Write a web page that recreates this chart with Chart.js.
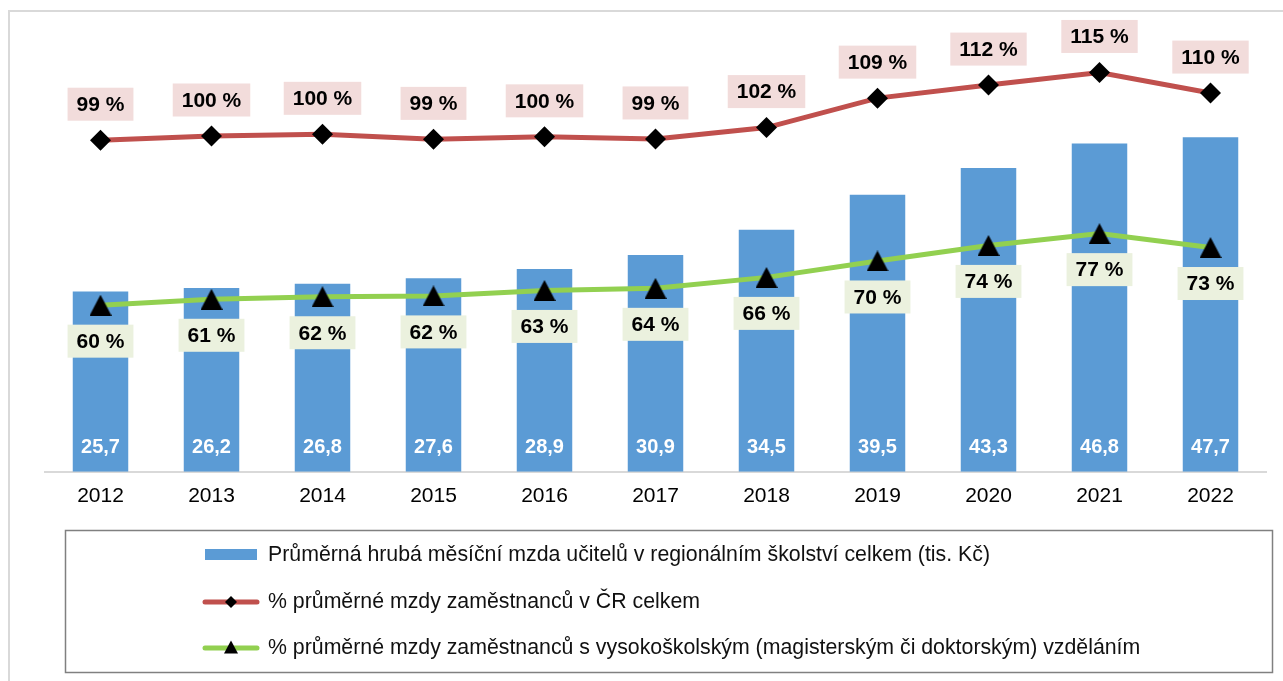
<!DOCTYPE html>
<html>
<head>
<meta charset="utf-8">
<script src="https://cdn.jsdelivr.net/npm/chart.js@4.4.1/dist/chart.umd.min.js"></script>
<style>
html, body { margin: 0; padding: 0; background: #fff; }
#wrap { width: 1283px; height: 681px; position: relative; }
</style>
</head>
<body>
<div id="wrap"><canvas id="mzdyChart" width="1283" height="681"></canvas></div>
<script>
const years = ["2012", "2013", "2014", "2015", "2016", "2017", "2018", "2019", "2020", "2021", "2022"];
const avgWage = [25.7, 26.2, 26.8, 27.6, 28.9, 30.9, 34.5, 39.5, 43.3, 46.8, 47.7];
const pctAll = [98.8, 99.8, 100.2, 99.0, 99.6, 99.1, 101.8, 108.8, 111.9, 114.9, 110.0];
const pctUni = [59.6, 61.0, 61.6, 61.8, 63.1, 63.6, 66.2, 70.1, 73.8, 76.6, 73.3];
const seriesNames = [
    "Průměrná hrubá měsíční mzda učitelů v regionálním školství celkem (tis. Kč)",
    "% průměrné mzdy zaměstnanců v ČR celkem",
    "% průměrné mzdy zaměstnanců s vysokoškolským (magisterským či doktorským) vzděláním"
];

const FONT = "'Liberation Sans', Arial, sans-serif";
const barBlue = '#5B9BD5';
const lineRed = '#C0504D';
const lineGreen = '#92D050';

// label with a coloured box behind it
function boxLabel(ctx, text, x, y, bg) {
    ctx.font = 'bold 21px ' + FONT;
    const w = ctx.measureText(text).width + 18;
    const h = 33;
    ctx.fillStyle = bg;
    ctx.fillRect(x - w / 2, y - h / 2, w, h);
    ctx.fillStyle = '#000';
    ctx.textAlign = 'center';
    ctx.textBaseline = 'middle';
    ctx.fillText(text, x, y + 1);
}

function diamond(ctx, x, y, r) {
    ctx.beginPath();
    ctx.moveTo(x, y - r);
    ctx.lineTo(x + r, y);
    ctx.lineTo(x, y + r);
    ctx.lineTo(x - r, y);
    ctx.closePath();
    ctx.fill();
}

// triangle centred in its box, like the Excel marker
function triangle(ctx, x, y, w, h) {
    ctx.beginPath();
    ctx.moveTo(x, y - h / 2);
    ctx.lineTo(x + w / 2, y + h / 2);
    ctx.lineTo(x - w / 2, y + h / 2);
    ctx.closePath();
    ctx.fill();
}

const triMarker = document.createElement('canvas');
triMarker.width = 22;
triMarker.height = 21;
triMarker.getContext('2d').fillStyle = '#000';
triangle(triMarker.getContext('2d'), 11, 10.5, 22, 21);

const framePlugin = {
    id: 'frame',
    beforeDraw(chart) {
        const ctx = chart.ctx;
        ctx.save();
        ctx.fillStyle = '#fff';
        ctx.fillRect(0, 0, chart.width, chart.height);
        ctx.strokeStyle = '#D9D9D9';
        ctx.lineWidth = 2;
        ctx.beginPath();
        ctx.moveTo(9, chart.height);
        ctx.lineTo(9, 11);
        ctx.lineTo(chart.width, 11);
        ctx.stroke();
        ctx.restore();
    }
};

const labelPlugin = {
    id: 'valueLabels',
    afterDatasetsDraw(chart) {
        const ctx = chart.ctx;
        ctx.save();
        // bar values, white, near the base
        chart.getDatasetMeta(0).data.forEach((bar, i) => {
            ctx.font = 'bold 20px ' + FONT;
            ctx.fillStyle = '#fff';
            ctx.textAlign = 'center';
            ctx.textBaseline = 'middle';
            ctx.fillText(avgWage[i].toFixed(1).replace('.', ','), bar.x, bar.base - 24);
        });
        chart.getDatasetMeta(1).data.forEach((pt, i) => {
            boxLabel(ctx, Math.round(pctAll[i]) + ' %', pt.x, pt.y - 36, '#F2DCDB');
        });
        chart.getDatasetMeta(2).data.forEach((pt, i) => {
            boxLabel(ctx, Math.round(pctUni[i]) + ' %', pt.x, pt.y + 36, '#EBF1DE');
        });
        ctx.restore();
    }
};

const legendPlugin = {
    id: 'boxLegend',
    afterDraw(chart) {
        const ctx = chart.ctx;
        ctx.save();
        ctx.strokeStyle = '#808080';
        ctx.lineWidth = 1.5;
        ctx.strokeRect(65.5, 530.5, 1207, 142);
        const rows = [555, 602, 648];
        chart.data.datasets.forEach((ds, i) => {
            const y = rows[i];
            if (ds.type === 'bar') {
                ctx.fillStyle = ds.backgroundColor;
                ctx.fillRect(205, y - 6, 52, 11);
            } else {
                ctx.strokeStyle = ds.borderColor;
                ctx.lineWidth = 5;
                ctx.lineCap = 'round';
                ctx.beginPath();
                ctx.moveTo(205, y);
                ctx.lineTo(257, y);
                ctx.stroke();
                ctx.fillStyle = '#000';
                if (ds.pointStyle === 'rectRot') diamond(ctx, 231, y, 6);
                else triangle(ctx, 231, y - 1, 14, 13);
            }
            ctx.fillStyle = '#111';
            ctx.font = '21.3px ' + FONT;
            ctx.textAlign = 'left';
            ctx.textBaseline = 'middle';
            ctx.fillText(ds.label, 268, y);
        });
        ctx.restore();
    }
};

const ctx = document.getElementById('mzdyChart').getContext('2d');
const mzdyChart = new Chart(ctx, {
    data: {
        labels: years,
        datasets: [
            {
                type: 'bar',
                label: seriesNames[0],
                data: avgWage,
                backgroundColor: barBlue,
                yAxisID: 'y',
                categoryPercentage: 1,
                barPercentage: 0.5,
                order: 3
            },
            {
                type: 'line',
                label: seriesNames[1],
                data: pctAll,
                borderColor: lineRed,
                borderWidth: 5,
                pointStyle: 'rectRot',
                pointRadius: 10.5,
                pointBackgroundColor: '#000',
                pointBorderColor: '#000',
                pointBorderWidth: 0,
                yAxisID: 'y1',
                order: 1
            },
            {
                type: 'line',
                label: seriesNames[2],
                data: pctUni,
                borderColor: lineGreen,
                borderWidth: 5,
                pointStyle: triMarker,
                pointRadius: 11,
                yAxisID: 'y1',
                order: 2
            }
        ]
    },
    options: {
        responsive: false,
        animation: false,
        devicePixelRatio: 1,
        layout: {
            padding: { top: 51, left: 45, right: 17, bottom: 160 }
        },
        plugins: {
            legend: { display: false },
            tooltip: { enabled: false }
        },
        scales: {
            x: {
                type: 'category',
                offset: true,
                grid: { display: false, drawTicks: false },
                border: { display: true, color: '#D9D9D9', width: 2 },
                ticks: {
                    color: '#000',
                    padding: 12,
                    font: { family: FONT, size: 21 }
                }
            },
            y: {
                display: false,
                min: 0,
                max: 60
            },
            y1: {
                display: false,
                min: 20,
                max: 120
            }
        }
    },
    plugins: [framePlugin, labelPlugin, legendPlugin]
});
</script>
</body>
</html>
